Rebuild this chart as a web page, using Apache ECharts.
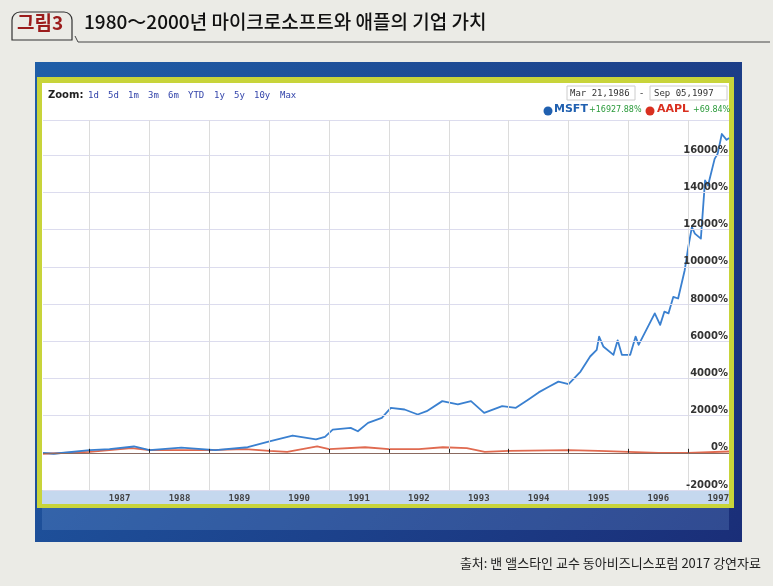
<!DOCTYPE html>
<html><head><meta charset="utf-8">
<script src="https://cdn.jsdelivr.net/npm/echarts@6/dist/echarts.min.js"></script>
<style>html,body{margin:0;padding:0;background:#ebebe6}#c{width:773px;height:586px}</style>
</head><body><div id="c"></div>
<script>
const years = [1987,1988,1989,1990,1991,1992,1993,1994,1995,1996,1997];
const yTicks = [-2000,0,2000,4000,6000,8000,10000,12000,14000,16000];
const msftT = [1986.22,1986.4,1987.0,1987.33,1987.74,1988.0,1988.53,1989.1,1989.64,1990.02,1990.39,1990.78,1990.93,1991.06,1991.36,1991.48,1991.65,1991.88,1992.03,1992.26,1992.48,1992.63,1992.89,1993.15,1993.37,1993.59,1993.89,1994.12,1994.33,1994.5,1994.67,1994.83,1995.0,1995.2,1995.36,1995.47,1995.51,1995.58,1995.75,1995.82,1995.89,1996.03,1996.12,1996.17,1996.44,1996.53,1996.6,1996.67,1996.75,1996.83,1996.94,1997.0,1997.06,1997.11,1997.21,1997.28,1997.33,1997.44,1997.49,1997.56,1997.64,1997.68];
const msftV = [0,-50,150,200,340,150,280,150,300,630,930,720,860,1250,1340,1160,1610,1880,2420,2330,2060,2240,2780,2600,2780,2150,2510,2420,2870,3250,3550,3830,3700,4370,5180,5540,6250,5720,5270,6050,5270,5270,6250,5810,7500,6880,7590,7500,8390,8300,9820,11070,12140,11790,11520,14650,14380,15810,16080,17150,16830,16928];
const aaplT = [1986.22,1987.0,1987.7,1988.0,1989.0,1989.6,1990.0,1990.3,1990.8,1991.0,1991.6,1992.0,1992.5,1992.9,1993.3,1993.6,1994.0,1995.0,1995.5,1996.0,1996.5,1997.0,1997.68];
const aaplV = [-50,50,250,150,150,200,100,50,350,200,300,200,200,300,250,50,100,150,100,50,0,0,70];
const msft = msftT.map((t,i)=>[t,msftV[i]]);
const aapl = aaplT.map((t,i)=>[t,aaplV[i]]);
const chart = echarts.init(document.getElementById('c'));
const F = '"Noto Sans CJK KR","Noto Sans",sans-serif';
const links = ['1d','5d','1m','3m','6m','YTD','1y','5y','10y','Max'];
let lx = 88; const linkEls = links.map(s=>{const e={type:'text',x:lx,y:91,z:10,style:{text:s,fill:'#3344aa',font:'9px "DejaVu Sans Mono"',textDecoration:'underline'}}; lx += s.length*6+8; return e;});
chart.setOption({
  animation:false,
  backgroundColor:'#ebebe6',
  graphic:[
    {type:'rect',shape:{x:12,y:12,width:60,height:28,r:[8,8,0,0]},style:{fill:'none',stroke:'#333',lineWidth:1.2},z:1},
    {type:'text',x:17,y:13,style:{text:'그림3',fill:'#9b1c1c',font:'bold 19px '+F}},
    {type:'text',x:84,y:12,style:{text:'1980～2000년 마이크로소프트와 애플의 기업 가치',fill:'#111',font:'500 19px '+F}},
    {type:'polyline',shape:{points:[[75,36],[78,42],[770,42]]},style:{stroke:'#444',lineWidth:1,fill:'none'}},
    {type:'rect',shape:{x:35,y:62,width:707,height:480},style:{fill:new echarts.graphic.LinearGradient(0,0,1,1,[{offset:0,color:'#1f5ea8'},{offset:1,color:'#1a2e78'}])},z:0},
    {type:'rect',shape:{x:37,y:77,width:697,height:431},style:{fill:'#c8d43a'},z:0},
    {type:'rect',shape:{x:42,y:83,width:687,height:421},style:{fill:'#ffffff'},z:0},
    {type:'rect',shape:{x:42,y:490,width:687,height:14},style:{fill:'#c5d8ee'},z:0},
    {type:'rect',shape:{x:42,y:508,width:687,height:22},style:{fill:'rgba(120,160,220,0.25)'},z:0},
    {type:'text',x:48,y:90,z:10,style:{text:'Zoom:',fill:'#222',font:'bold 10px "DejaVu Sans"'}},
    ...linkEls,
    {type:'rect',shape:{x:567,y:86,width:68,height:14},style:{fill:'#fff',stroke:'#ccc'},z:10},
    {type:'text',x:570,y:89,z:11,style:{text:'Mar 21,1986',fill:'#333',font:'9px "DejaVu Sans Mono"'}},
    {type:'text',x:640,y:89,z:11,style:{text:'-',fill:'#333',font:'9px "DejaVu Sans"'}},
    {type:'rect',shape:{x:650,y:86,width:77,height:14},style:{fill:'#fff',stroke:'#ccc'},z:10},
    {type:'text',x:654,y:89,z:11,style:{text:'Sep 05,1997',fill:'#333',font:'9px "DejaVu Sans Mono"'}},
    {type:'circle',shape:{cx:548,cy:111,r:4.5},style:{fill:'#2060b0'},z:10},
    {type:'text',x:554,y:104,z:10,style:{text:'MSFT',fill:'#2060b0',font:'bold 11px "DejaVu Sans"'}},
    {type:'text',x:589,y:106,z:10,style:{text:'+16927.88%',fill:'#2a9a3a',font:'8px "DejaVu Sans"'}},
    {type:'circle',shape:{cx:650,cy:111,r:4.5},style:{fill:'#d93020'},z:10},
    {type:'text',x:657,y:104,z:10,style:{text:'AAPL',fill:'#d93020',font:'bold 11px "DejaVu Sans"'}},
    {type:'text',x:693,y:106,z:10,style:{text:'+69.84%',fill:'#2a9a3a',font:'8px "DejaVu Sans"'}},
    {type:'text',right:12,y:557,style:{text:'출처: 밴 앨스타인 교수 동아비즈니스포럼 2017 강연자료',fill:'#222',font:'13px '+F}}
  ],
  grid:{left:43,right:44,top:120,bottom:96},
  xAxis:{type:'value',min:1986.22,max:1997.68,z:5,
    axisLine:{show:false},
    axisTick:{show:true,inside:true,length:4,customValues:years,lineStyle:{color:'#222'}},
    splitLine:{show:true,lineStyle:{color:'#dcdcdc'}},
    axisLabel:{customValues:years.map(y=>y+0.5),formatter:v=>String(Math.floor(v)),color:'#444',fontSize:9,fontWeight:'bold',fontFamily:'DejaVu Sans Mono',margin:4,showMaxLabel:true}},
  yAxis:{type:'value',position:'right',min:-2000,max:17900,interval:2000,z:5,
    axisLine:{show:false},axisTick:{show:false},
    splitLine:{lineStyle:{color:'#dcdcee'}},
    axisLabel:{inside:true,verticalAlign:'bottom',margin:1,color:'#333',fontSize:10,fontWeight:'bold',fontFamily:'DejaVu Sans',
      formatter:v=>yTicks.includes(v)?v+'%':''}},
  series:[
    {type:'line',data:aapl,symbol:'none',lineStyle:{color:'#e06a50',width:1.8},z:3},
    {type:'line',data:msft,symbol:'none',lineStyle:{color:'#3a80d0',width:1.8,join:'round'},z:4,
     markLine:{silent:true,symbol:'none',label:{show:false},lineStyle:{color:'#8a6a60',width:1.2,type:'solid'},data:[{yAxis:0}]}}
  ]
});
</script></body></html>
